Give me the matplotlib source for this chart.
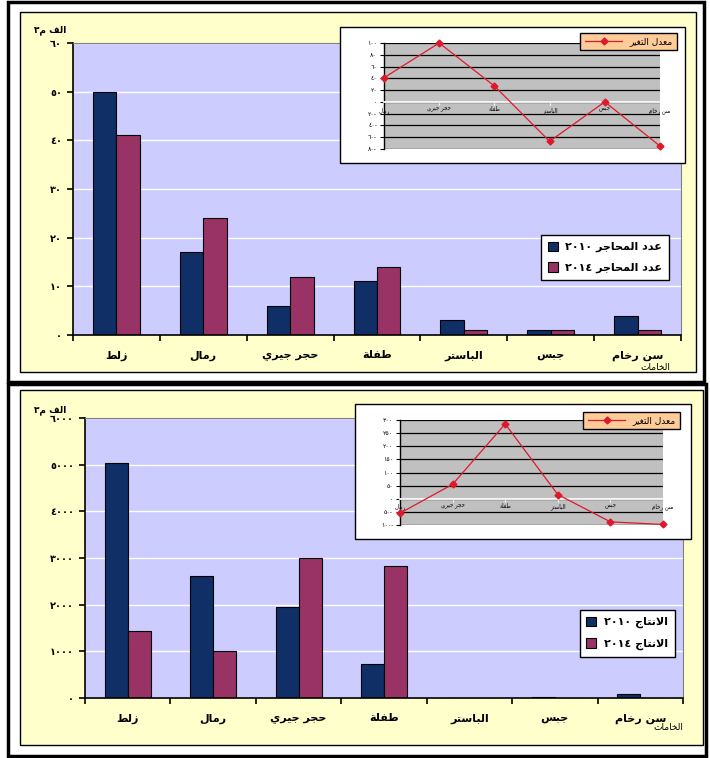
import re
import numpy as np
import matplotlib
matplotlib.use('Agg')
import matplotlib.pyplot as plt
from matplotlib.patches import Rectangle

W, H = 710, 758

# data
categories = ['زلط', 'رمال', 'حجر جيري', 'طفلة', 'الباستر', 'جبس', 'سن رخام']
quarries_2010 = [50, 17, 6, 11, 3, 1, 4]
quarries_2014 = [41, 24, 12, 14, 1, 1, 1]
quarries_rate = [41, 100, 27, -67, 0, -75]
production_2010 = [5040, 2620, 1950, 730, 0, 30, 95]
production_2014 = [1440, 1000, 3000, 2830, 0, 0, 0]
production_rate = [-55, 55, 285, 16, -88, -98]

NAVY = '#0F2F66'
PLUM = '#993366'
RED = '#E0182C'

# matplotlib has no arabic shaping, so pick presentation forms by hand
LETTERS = 'ءآأؤإئابةتثجحخدذرزسشصضطظعغفقكلمنهوىي'
COUNTS = [1, 2, 2, 2, 2, 4, 2, 4, 2, 4, 4, 4, 4, 4, 2, 2, 2, 2, 4, 4,
          4, 4, 4, 4, 4, 4, 4, 4, 4, 4, 4, 4, 4, 2, 2, 4]
FORMS = {}
base = 0xFE80
for ch, n in zip(LETTERS, COUNTS):
    FORMS[ch] = (base, n)
    base += n
LAMALEF = {'ا': 0xFEFB, 'أ': 0xFEF7, 'إ': 0xFEF9, 'آ': 0xFEF5}


def shape(text):
    units = []
    i = 0
    while i < len(text):
        if text[i] == 'ل' and i + 1 < len(text) and text[i + 1] in LAMALEF:
            units.append(('LA', text[i + 1]))
            i += 2
        else:
            units.append(('C', text[i]))
            i += 1
    out = []
    for k, (kind, c) in enumerate(units):
        prev = units[k - 1] if k > 0 else None
        nxt = units[k + 1] if k + 1 < len(units) else None
        prev_joins = prev is not None and prev[0] == 'C' and FORMS.get(prev[1], (0, 0))[1] == 4
        if kind == 'LA':
            out.append(chr(LAMALEF[c] + (1 if prev_joins else 0)))
            continue
        if c not in FORMS:
            out.append(c)
            continue
        b, n = FORMS[c]
        jp = prev_joins and n > 1
        jn = n == 4 and nxt is not None and (nxt[0] == 'LA' or FORMS.get(nxt[1], (0, 0))[1] > 1)
        out.append(chr(b + (3 if jp and jn else 1 if jp else 2 if jn else 0)))
    s = ''.join(out)[::-1]
    return re.sub(r'[0-9٠-٩]+', lambda m: m.group(0)[::-1], s)


def adigits(v):
    s = str(abs(int(v))).translate(str.maketrans('0123456789', '٠١٢٣٤٥٦٧٨٩'))
    return s + '-' if v < 0 else s


def box(x0, y0, x1, y1):
    return [x0 / W, 1 - y1 / H, (x1 - x0) / W, (y1 - y0) / H]


def rect(fig, x0, y0, x1, y1, **kw):
    fig.add_artist(Rectangle((x0 / W, 1 - y1 / H), (x1 - x0) / W, (y1 - y0) / H,
                             transform=fig.transFigure, **kw))


def panel(fig, frame, chart, main, inset_frame, inset, v1, v2, names, ymax, ystep,
          rate, rlim, rstep, leg_at, ileg_at, ylab_at, xlab_at):
    rect(fig, *frame, fill=False, edgecolor='black', lw=2.5, zorder=-2)
    rect(fig, *chart, facecolor='#FFFFCC', edgecolor='black', lw=1, zorder=-1)

    ax = fig.add_axes(box(*main))
    ax.set_facecolor('#CCCCFF')
    x = np.arange(len(categories))
    ax.bar(x - 0.135, v1, 0.27, color=NAVY, edgecolor='black', lw=0.8, label=shape(names[0]))
    ax.bar(x + 0.135, v2, 0.27, color=PLUM, edgecolor='black', lw=0.8, label=shape(names[1]))
    ax.set_xlim(-0.5, len(categories) - 0.5)
    ax.set_ylim(0, ymax)
    yt = list(range(0, ymax + 1, ystep))
    ax.set_yticks(yt)
    ax.set_yticklabels([adigits(v) for v in yt], fontsize=7, fontweight='bold')
    ax.yaxis.grid(True, color='white', lw=1)
    ax.set_axisbelow(True)
    ax.set_xticks(np.arange(-0.5, len(categories), 1))
    ax.set_xticklabels([])
    ax.set_xticks(x, minor=True)
    ax.set_xticklabels([shape(c) for c in categories], minor=True, fontsize=8, fontweight='bold')
    ax.tick_params(axis='x', which='minor', length=0, pad=11)
    ax.tick_params(axis='both', which='major', length=4, width=1.2, direction='out', pad=4)
    for s in ['left', 'bottom']:
        ax.spines[s].set_linewidth(1.2)
    for s in ['top', 'right']:
        ax.spines[s].set_color('#808080')
        ax.spines[s].set_linewidth(0.8)
    ax.legend(loc='upper right', bbox_to_anchor=(leg_at[0] / W, 1 - leg_at[1] / H),
              bbox_transform=fig.transFigure, prop={'size': 8, 'weight': 'bold'},
              fancybox=False, edgecolor='black', framealpha=1, handlelength=0.9,
              handleheight=0.9, borderpad=0.6, labelspacing=0.9, handletextpad=0.7,
              borderaxespad=0)
    fig.text(ylab_at[0] / W, 1 - ylab_at[1] / H, shape('الف م٣'), fontsize=6.5,
             fontweight='bold', ha='center', va='center')
    fig.text(xlab_at[0] / W, 1 - xlab_at[1] / H, shape('الخامات'), fontsize=6.5,
             ha='center', va='center')

    # small line chart of the rate of change
    rect(fig, *inset_frame, facecolor='white', edgecolor='black', lw=1, zorder=1)
    ia = fig.add_axes(box(*inset), zorder=2)
    ia.set_facecolor('#C0C0C0')
    ia.plot(range(len(rate)), rate, color=RED, lw=0.9, marker='D', ms=3.5,
            label=shape('معدل التغير'), zorder=4, clip_on=False)
    ia.set_xlim(0, len(rate) - 1)
    ia.set_ylim(*rlim)
    rt = list(range(rlim[0], rlim[1] + 1, rstep))
    ia.set_yticks(rt)
    ia.set_yticklabels([adigits(v) for v in rt], fontsize=4.5)
    ia.yaxis.grid(True, color='black', lw=0.9)
    ia.set_axisbelow(True)
    ia.spines['bottom'].set_position(('data', 0))
    ia.spines['bottom'].set_color('white')
    ia.spines['bottom'].set_linewidth(1.3)
    ia.spines['top'].set_visible(False)
    ia.spines['right'].set_visible(False)
    ia.spines['left'].set_linewidth(1)
    ia.set_xticks(range(len(rate)))
    ia.set_xticklabels([shape(c) for c in categories[1:]], fontsize=4)
    ia.tick_params(axis='x', colors='white', labelcolor='black', length=2.5, pad=1)
    ia.tick_params(axis='y', length=3, pad=2)
    ia.legend(loc='upper right', bbox_to_anchor=(ileg_at[0] / W, 1 - ileg_at[1] / H),
              bbox_transform=fig.transFigure, fontsize=6.5, facecolor='#FFCC99',
              edgecolor='black', framealpha=1, fancybox=False, handlelength=4.2,
              borderpad=0.45, borderaxespad=0)


fig = plt.figure(figsize=(W / 100, H / 100), dpi=100)

panel(fig, (8, 2, 704, 382), (20, 12, 696, 372), (73, 43, 681, 335),
      (340, 27, 685, 163), (384, 43, 660, 149),
      quarries_2010, quarries_2014, ['عدد المحاجر ٢٠١٠', 'عدد المحاجر ٢٠١٤'], 60, 10,
      quarries_rate, (-80, 100), 20, (669, 235), (677, 33), (50, 30), (655, 367))

panel(fig, (8, 384, 706, 756), (20, 390, 703, 745), (85, 418, 683, 698),
      (355, 404, 691, 539), (400, 420, 663, 525),
      production_2010, production_2014, ['الانتاج ٢٠١٠', 'الانتاج ٢٠١٤'], 6000, 1000,
      production_rate, (-100, 300), 50, (675, 610), (680, 412), (50, 410), (668, 728))

fig.savefig('out.png', dpi=100)
